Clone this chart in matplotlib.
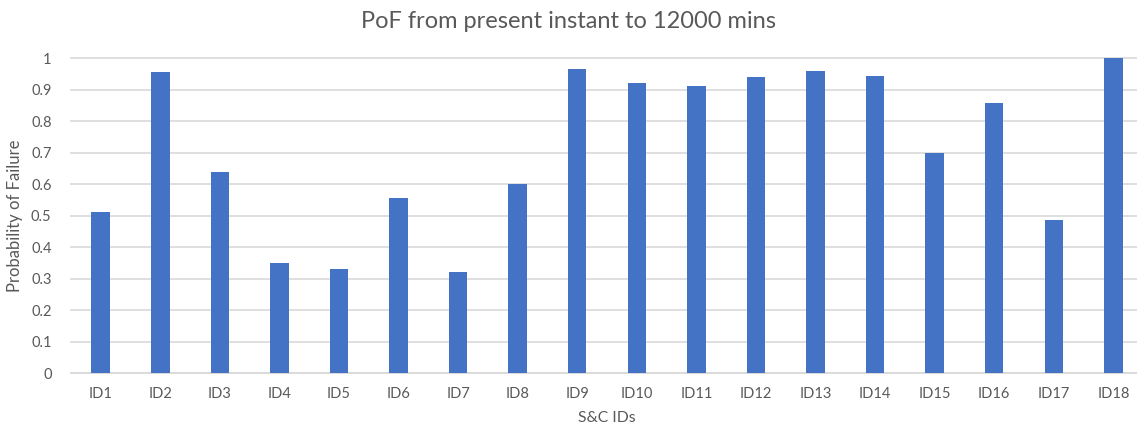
import matplotlib
matplotlib.use("Agg")
import matplotlib.pyplot as plt
import numpy as np

# Probability of failure per S&C asset
ids = ['ID1', 'ID2', 'ID3', 'ID4', 'ID5', 'ID6', 'ID7', 'ID8', 'ID9',
       'ID10', 'ID11', 'ID12', 'ID13', 'ID14', 'ID15', 'ID16', 'ID17', 'ID18']
pof = [0.511, 0.956, 0.639, 0.349, 0.330, 0.558, 0.321, 0.602, 0.967,
       0.921, 0.911, 0.939, 0.961, 0.944, 0.698, 0.857, 0.487, 1.0]

plt.rcParams['font.family'] = ['Lato', 'DejaVu Sans']
text_col = '#595959'
grid_col = '#d9d9d9'

fig = plt.figure(figsize=(11.37, 4.33), dpi=100)
ax = fig.add_axes([0.0624, 0.1379, 0.943, 0.7275])

x = np.arange(len(ids))
ax.bar(x, pof, width=0.31, color='#4472C4', zorder=3)

ax.set_xlim(-0.5, len(ids) - 0.5)
ax.set_ylim(0, 1)
ax.set_yticks(np.arange(0, 1.01, 0.1))
ax.set_yticklabels(['0', '0.1', '0.2', '0.3', '0.4', '0.5', '0.6', '0.7', '0.8', '0.9', '1'])
ax.set_xticks(x)
ax.set_xticklabels(ids)

ax.grid(axis='y', color=grid_col, linewidth=1.2, zorder=0)
for ln in ax.get_ygridlines():
    ln.set_clip_on(False)
for side in ['top', 'right', 'left']:
    ax.spines[side].set_visible(False)
ax.spines['bottom'].set_color(grid_col)
ax.spines['bottom'].set_linewidth(1.2)

ax.tick_params(axis='both', length=0, labelsize=10.5, colors=text_col)
ax.tick_params(axis='y', pad=14)
ax.tick_params(axis='x', pad=10)

ax.set_xlabel('S&C IDs', fontsize=11.3, color=text_col, labelpad=7)
ax.set_ylabel('Probability of Failure', fontsize=12, color=text_col, labelpad=6)
fig.text(0.5, 0.935, 'PoF from present instant to 12000 mins', ha='center',
         fontsize=17, color=text_col)

fig.savefig('out.png', dpi=100)
